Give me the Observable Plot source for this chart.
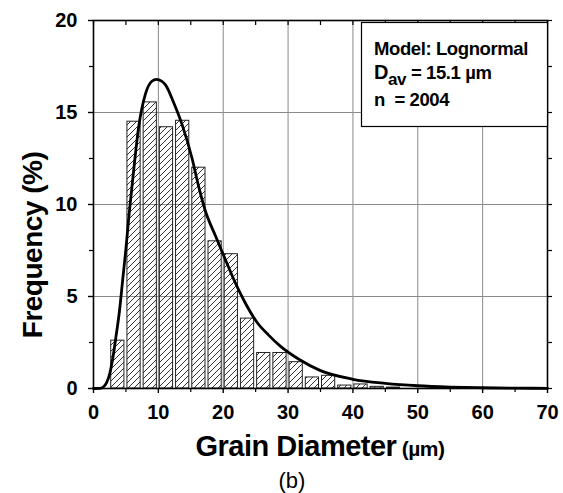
<!DOCTYPE html>
<html><head><meta charset="utf-8">
<script src="https://cdn.jsdelivr.net/npm/d3@7"></script>
<script src="https://cdn.jsdelivr.net/npm/@observablehq/plot@0.6"></script>
<style>body{margin:0;background:#fff}</style>
</head><body><div id="chart"></div>
<script>
// Histogram bins (µm) and frequencies (%)
const binStarts = [2.5,5,7.5,10,12.5,15,17.5,20,22.5,25,27.5,30,32.5,35,37.5,40,42.5,45];
const binWidth = 2.5;
const frequencies = [2.6,14.5,15.55,14.2,14.55,12.0,8.0,7.3,3.8,1.93,1.93,1.43,0.6,0.69,0.16,0.22,0.09,0.05];
// Lognormal fit curve
const curveX = [0,1,1.5,2,2.5,3,3.5,4,4.5,5,5.5,6,7,8,9,9.7,10.5,11.1,12.4,13.7,15.2,16.2,17.2,18.8,20.1,21.6,23.1,25.2,27,28.8,31.6,35,40,45,50,55,60,65,70];
const curveY = [0,0.01,0.08,0.3,0.8,1.7,2.9,4.2,5.9,7.6,9.5,11.2,14.3,16.0,16.7,16.8,16.7,16.5,15.5,14.3,12.5,11.0,9.7,8.3,7.2,5.95,4.85,3.6,2.9,2.3,1.6,0.97,0.5,0.28,0.15,0.08,0.04,0.02,0.01];
const xTicks = [0,10,20,30,40,50,60,70];
const xMinor = [5,15,25,35,45,55,65];
const yTicks = [0,5,10,15,20];
const yMinor = [2.5,7.5,12.5,17.5];
const legendModel = "Model: Lognormal";
const legendDav = ["D", "av", " = 15.1 µm"];
const legendN = "n  = 2004";
const xLabel = ["Grain Diameter", " (µm)"];
const yLabel = "Frequency (%)";
const caption = "(b)";

const bars = binStarts.map((s, i) => ({x1: s, x2: s + binWidth, f: frequencies[i]}));
const curve = curveX.map((x, i) => ({x, y: curveY[i]}));
const font = "'Liberation Sans', Arial, sans-serif";

const plot = Plot.plot({
  width: 563, height: 493,
  marginLeft: 93, marginRight: 16, marginTop: 20, marginBottom: 105,
  x: {domain: [0, 70]},
  y: {domain: [0, 20]},
  style: {fontFamily: font, fontSize: "20px", fontWeight: "bold", color: "#000", background: "#fff"},
  marks: [
    Plot.gridX(xTicks.slice(1, -1), {stroke: "#8a8a8a", strokeOpacity: 1, strokeWidth: 1}),
    Plot.gridY(yTicks.slice(1, -1), {stroke: "#8a8a8a", strokeOpacity: 1, strokeWidth: 1}),
    Plot.rectY(bars, {x1: "x1", x2: "x2", y: "f", fill: "url(#hatch)", stroke: "#222", strokeWidth: 1, insetLeft: 1.5, insetRight: 1.5}),
    Plot.line(curve, {x: "x", y: "y", curve: "monotone-x", stroke: "#000", strokeWidth: 2.8}),
    Plot.frame({stroke: "#000", strokeWidth: 1.6}),
    Plot.axisX(xTicks, {tickSize: 5, tickPadding: 11, label: null, strokeWidth: 1.4}),
    Plot.axisX(xMinor, {tickSize: 4, text: null, label: null, strokeWidth: 1.2}),
    Plot.axisX(xTicks.concat(xMinor), {anchor: "top", tickSize: -4, text: null, label: null, strokeWidth: 1.2}),
    Plot.axisY(yTicks, {tickSize: 5, tickPadding: 11, label: null, strokeWidth: 1.4}),
    Plot.axisY(yMinor, {tickSize: 4, text: null, label: null, strokeWidth: 1.2}),
    Plot.axisY(yTicks.concat(yMinor), {anchor: "right", tickSize: 4, text: null, label: null, strokeWidth: 1.2})
  ]
});

const svg = d3.select(plot);
const defs = svg.insert("defs", ":first-child");
const pat = defs.append("pattern").attr("id", "hatch").attr("patternUnits", "userSpaceOnUse")
  .attr("width", 6).attr("height", 6);
pat.append("path").attr("d", "M0,6L6,0M-1.5,1.5L1.5,-1.5M4.5,7.5L7.5,4.5")
  .attr("stroke", "#000").attr("stroke-width", 0.8).attr("fill", "none");

// Legend box
const lg = svg.append("g").attr("font-family", font).attr("font-weight", "bold").attr("font-size", 18.5)
  .attr("fill", "#000").attr("text-anchor", "start").attr("letter-spacing", "-0.4");
lg.append("rect").attr("x", 361.5).attr("y", 22.5).attr("width", 186).attr("height", 104)
  .attr("fill", "#fff").attr("stroke", "#000").attr("stroke-width", 1.2);
lg.append("text").attr("x", 374).attr("y", 55).text(legendModel);
const t2 = lg.append("text").attr("x", 374).attr("y", 79);
t2.append("tspan").attr("font-size", 20).text(legendDav[0]);
t2.append("tspan").attr("dy", 6).attr("font-size", 17).text(legendDav[1]);
t2.append("tspan").attr("dy", -6).text(legendDav[2]);
lg.append("text").attr("x", 374).attr("y", 106).text(legendN);

// Axis labels
const xl = svg.append("text").attr("x", 320).attr("y", 456).attr("text-anchor", "middle")
  .attr("font-family", font).attr("font-weight", "bold").attr("fill", "#000").attr("letter-spacing", "-0.5");
xl.append("tspan").attr("font-size", 29).text(xLabel[0]);
xl.append("tspan").attr("font-size", 21).text(xLabel[1]);
svg.append("text").attr("transform", "translate(42,245) rotate(-90)").attr("text-anchor", "middle")
  .attr("font-family", font).attr("font-weight", "bold").attr("font-size", 28).attr("fill", "#000")
  .attr("letter-spacing", "-0.5").text(yLabel);
svg.append("text").attr("x", 292).attr("y", 488).attr("text-anchor", "middle")
  .attr("font-family", font).attr("font-weight", "normal").attr("font-size", 22).attr("fill", "#000").text(caption);

document.getElementById("chart").appendChild(plot);
</script>
</body></html>
